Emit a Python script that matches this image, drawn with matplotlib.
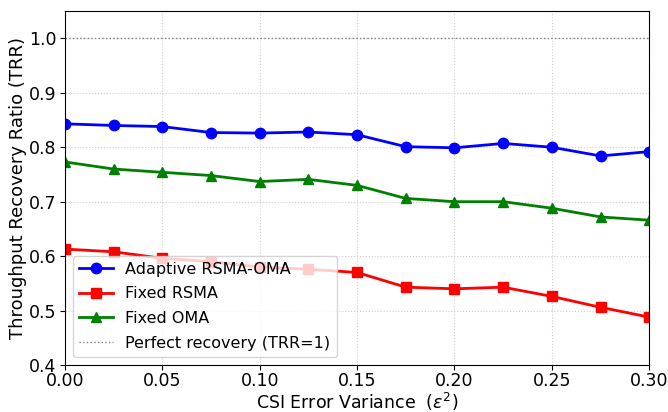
import numpy as np
import matplotlib.pyplot as plt

csi_var = [0.0, 0.025, 0.05, 0.075, 0.1, 0.125, 0.15, 0.175, 0.2, 0.225, 0.25, 0.275, 0.3]
trr_adaptive = [0.843, 0.840, 0.838, 0.827, 0.826, 0.828, 0.823, 0.801, 0.799, 0.807, 0.800, 0.784, 0.792]
trr_rsma = [0.613, 0.608, 0.596, 0.590, 0.580, 0.576, 0.570, 0.543, 0.540, 0.543, 0.526, 0.506, 0.488]
trr_oma = [0.773, 0.760, 0.754, 0.748, 0.737, 0.741, 0.730, 0.706, 0.700, 0.700, 0.688, 0.672, 0.666]

plt.figure(figsize=(6.68, 4.12), dpi=100)
plt.plot(csi_var, trr_adaptive, 'o-', color='blue', lw=2, ms=7.5, label='Adaptive RSMA-OMA')
plt.plot(csi_var, trr_rsma, 's-', color='red', lw=2, ms=7.5, label='Fixed RSMA')
plt.plot(csi_var, trr_oma, '^-', color='green', lw=2, ms=7.5, label='Fixed OMA')
plt.axhline(y=1.0, color='gray', linestyle=':', lw=1, label='Perfect recovery (TRR=1)')
plt.xlabel(r'CSI Error Variance  ($\epsilon^2$)', fontsize=12.5, labelpad=1)
plt.ylabel('Throughput Recovery Ratio (TRR)', fontsize=13, labelpad=1)
plt.xlim(0, 0.3)
plt.ylim(0.4, 1.05)
plt.xticks(fontsize=12.5)
plt.yticks(fontsize=12.5)
plt.tick_params(axis='x', pad=1.5)
plt.tick_params(axis='y', pad=2.5)
plt.grid(True, linestyle=':', alpha=0.6)
plt.legend(fontsize=11.5, loc='lower left', handlelength=2.1, labelspacing=0.6)
plt.subplots_adjust(left=0.097, right=0.972, top=0.973, bottom=0.114)
plt.savefig('out.png')
